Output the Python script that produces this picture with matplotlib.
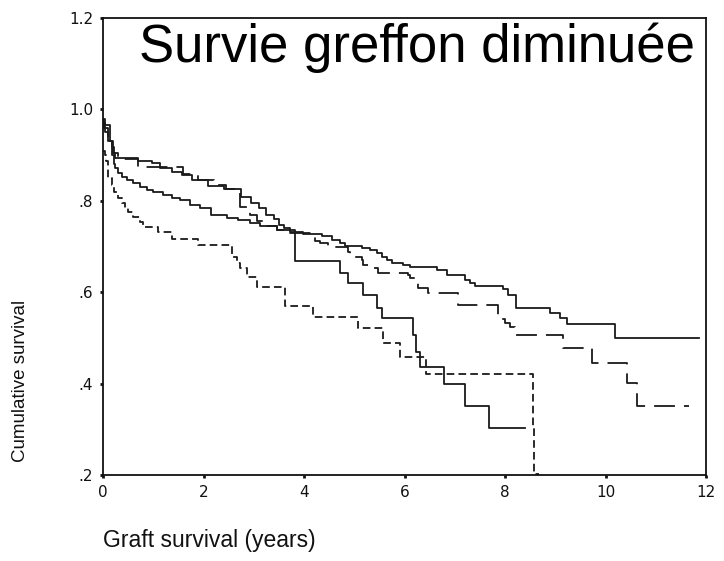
import matplotlib
matplotlib.use("Agg")
import matplotlib.pyplot as plt

plt.rcParams['font.family'] = ['Liberation Sans', 'DejaVu Sans']
plt.rcParams['lines.scale_dashes'] = False

# Curve A (solid, upper)
A_t = [0, 0.04, 0.14, 0.2, 0.24, 0.7, 0.98, 1.14, 1.38, 1.58, 1.78, 2.08, 2.4, 2.74, 2.95, 3.1, 3.25, 3.4, 3.5, 3.6,
       3.72, 3.98, 4.36, 4.56, 4.72, 4.82, 5.15, 5.31, 5.45, 5.55, 5.65, 5.75, 5.97, 6.11, 6.65, 6.85, 7.2, 7.3, 7.4, 7.96,
       8.06, 8.22, 8.9, 9.09, 9.23, 10.19, 11.86]
A_s = [.98, .965, .93, .905, .894, .887, .882, .872, .863, .856, .845, .832, .826, .808, .795, .785, .77, .76, .748, .74,
       .732, .728, .723, .714, .708, .701, .697, .692, .686, .677, .670, .664, .660, .655, .649, .638, .627, .620, .614, .607,
       .594, .565, .554, .544, .530, .500, .500]

# Curve B (long dash)
B_t = [0, 0.02, 0.1, 0.18, 0.22, 0.3, 0.7, 1.6, 1.9, 2.2, 2.45, 2.73, 2.93, 3.07, 3.23, 3.46, 3.72, 4.16, 4.22, 4.32,
       4.48, 4.88, 4.92, 5.15, 5.18, 5.31, 5.47, 6.07, 6.11, 6.21, 6.27, 6.47, 7.06, 7.86, 8.0, 8.1, 8.2, 9.15, 9.73, 10.43,
       10.63, 11.66]
B_s = [.975, .96, .94, .918, .905, .891, .874, .858, .845, .835, .826, .786, .77, .755, .745, .736, .730, .721, .712, .708,
       .699, .688, .677, .670, .659, .653, .642, .638, .631, .62, .609, .598, .572, .541, .532, .524, .506, .478, .445, .402,
       .35, .35]

# Curve C (solid, lower)
C_t = [0, 0.03, 0.1, 0.17, 0.22, 0.24, 0.3, 0.38, 0.48, 0.6, 0.74, 0.88, 1.0, 1.2, 1.38, 1.54, 1.74, 1.94, 2.14, 2.47,
       2.69, 2.93, 3.13, 3.46, 3.82, 4.72, 4.88, 5.17, 5.45, 5.55, 6.17, 6.22, 6.3, 6.79, 7.2, 7.68, 8.4]
C_s = [.97, .95, .93, .9, .88, .872, .861, .852, .845, .839, .83, .824, .819, .813, .806, .802, .791, .784, .769, .762,
       .758, .751, .745, .736, .668, .642, .62, .594, .565, .544, .506, .469, .436, .399, .351, .303, .303]

# Curve D (short dash)
D_t = [0, 0.04, 0.06, 0.1, 0.17, 0.22, 0.3, 0.37, 0.44, 0.5, 0.6, 0.74, 0.8, 1.09, 1.37, 1.89, 2.57, 2.67, 2.73, 2.87,
       3.07, 3.62, 4.18, 5.07, 5.57, 5.91, 6.43, 8.55, 8.57, 8.68]
D_s = [.91, .9, .886, .85, .835, .82, .806, .795, .784, .775, .765, .754, .743, .732, .717, .703, .677, .664, .653, .633,
       .611, .57, .546, .522, .489, .458, .421, .303, .202, .202]

x_ticks = [0, 2, 4, 6, 8, 10, 12]
y_ticks = [0.2, 0.4, 0.6, 0.8, 1.0, 1.2]
y_tick_labels = [".2", ".4", ".6", ".8", "1.0", "1.2"]

fig = plt.figure(figsize=(7.24, 5.61), dpi=100)
ax = fig.add_axes([103/724, 1-475/561, 603/724, 457/561])

col = '#1a1a1a'
lw = 1.3
ax.step(A_t, A_s, where='post', color=col, lw=lw)
l, = ax.step(B_t, B_s, where='post', color=col, lw=lw)
l.set_dashes((15, 6.5))
ax.step(C_t, C_s, where='post', color=col, lw=lw)
l, = ax.step(D_t, D_s, where='post', color=col, lw=lw)
l.set_dashes((5.5, 3))

ax.set_xlim(0, 12)
ax.set_ylim(0.2, 1.2)
ax.set_xticks(x_ticks)
ax.set_xticklabels([str(v) for v in x_ticks])
ax.set_yticks(y_ticks)
ax.set_yticklabels(y_tick_labels)
ax.tick_params(direction='out', length=2.5, width=2, labelsize=11, colors='#111111')
ax.tick_params(axis='y', pad=4.5)
ax.tick_params(axis='x', pad=5)
for lab in ax.get_xticklabels() + ax.get_yticklabels():
    lab.set_family('DejaVu Sans')
for s in ax.spines.values():
    s.set_linewidth(1.3)
    s.set_color('#111111')

ax.text(0.982, 0.904, "Survie greffon diminuée", transform=ax.transAxes,
        ha='right', va='baseline', fontsize=38, color='black')

fig.text(21/724, 1-381/561, "Cumulative survival", rotation=90, ha='center', va='center',
         fontsize=13.5, family=['Liberation Sans Narrow', 'Liberation Sans', 'DejaVu Sans'], color='#111111')
fig.text(103/724, 1-541/561, "Graft survival (years)", ha='left', va='center', fontsize=16.5, color='#111111')

fig.savefig("out.png", dpi=100)
